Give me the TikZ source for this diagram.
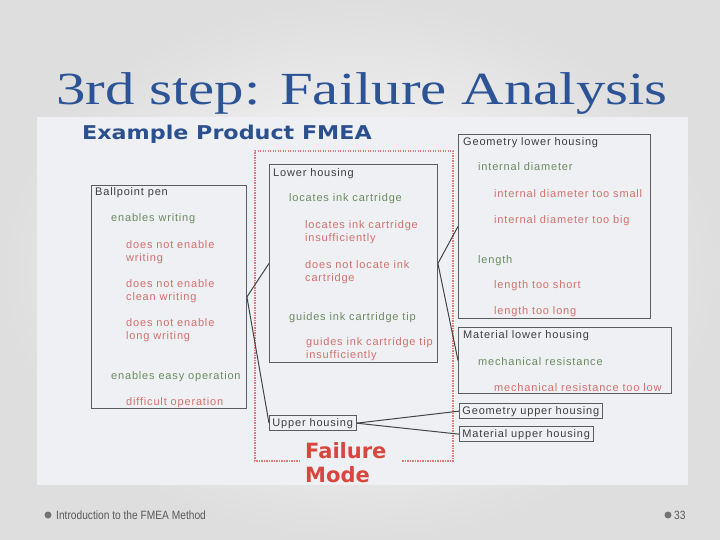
\documentclass[tikz,border=0pt]{standalone}
\usepackage{fontspec}
\usepackage{graphicx}
\setmainfont{Liberation Sans}
\newfontfamily\titlefont{Liberation Serif}
\newfontfamily\headfont{DejaVu Sans}
\newfontfamily\boxfont[LetterSpace=7.5]{Liberation Sans}
\definecolor{titleblue}{HTML}{2B5395}
\definecolor{headblue}{HTML}{2C4F8E}
\definecolor{modered}{HTML}{D9463D}
\definecolor{fngreen}{HTML}{6B8A5F}
\definecolor{fmtext}{HTML}{D4706C}
\definecolor{darktext}{HTML}{3E3E3E}
\definecolor{boxline}{HTML}{5C5C5C}
\definecolor{panel}{HTML}{EEF0F4}
\definecolor{dotred}{HTML}{E27B76}
\tikzset{
  elem/.style={anchor=base west, inner sep=0, font=\boxfont\fontsize{11}{13}\selectfont, text=darktext},
  func/.style={elem, text=fngreen},
  fail/.style={elem, text=fmtext, align=left},
  frame/.style={draw=boxline, line width=0.9pt, anchor=north west, inner sep=0},
  tag/.style={elem, draw=boxline, line width=0.9pt, inner xsep=3pt, inner ysep=2.5pt},
  link/.style={draw=boxline!75!black, line width=1pt}
}

\begin{document}
\begin{tikzpicture}[x=1pt, y=-1pt]
  \useasboundingbox (0,0) rectangle (720,540);
  \shade[inner color=white, outer color=black!13] (0,0) rectangle (720,540);
  \fill[panel] (37,117) rectangle (688,485);
  \node[anchor=base west, inner sep=0, text=titleblue, font=\titlefont\fontsize{46}{46}\selectfont] (title) at (56,105) {\scalebox{1.28}[1]{3rd step: Failure Analysis}};
  \node[anchor=base west, inner sep=0, text=headblue, font=\headfont\bfseries\fontsize{19}{19}\selectfont] (head) at (82,140) {\scalebox{1.17}[1]{Example Product FMEA}};
  \draw[dotred, line width=1.4pt, dash pattern=on 1.2pt off 1.3pt] (300,461) -- (255,461) -- (255,151) -- (453,151) -- (453,461) -- (402,461);
  \node[anchor=base west, inner sep=0, text=modered, align=left, font=\headfont\bfseries\fontsize{21}{24}\selectfont] (fmode) at (305,482) {Failure\\Mode};
  \node[frame, minimum width=155pt, minimum height=223pt] (pen) at (91,185) {};
  \node[elem] (penT) at (95,196) {Ballpoint pen};
  \node[func] (f1) at (111,222) {enables writing};
  \node[fail] (e1) at (126,261) {does not enable\\writing};
  \node[fail] (e2) at (126,300) {does not enable\\clean writing};
  \node[fail] (e3) at (126,339) {does not enable\\long writing};
  \node[func] (f2) at (111,379) {enables easy operation};
  \node[fail] (e4) at (126,405) {difficult operation};
  \node[frame, minimum width=168pt, minimum height=198pt] (lower) at (269,164) {};
  \node[elem] (lowerT) at (273,177) {Lower housing};
  \node[func] (f3) at (289,202) {locates ink cartridge};
  \node[fail] (e5) at (305,241) {locates ink cartridge\\insufficiently};
  \node[fail] (e6) at (305,281) {does not locate ink\\cartridge};
  \node[func] (f4) at (289,320) {guides ink cartridge tip};
  \node[fail] (e7) at (306,358) {guides ink cartridge tip\\insufficiently};
  \node[tag] (upper) at (269,426) {Upper housing};
  \node[frame, minimum width=192pt, minimum height=184pt] (geolow) at (458,134) {};
  \node[elem] (geolowT) at (463,146) {Geometry lower housing};
  \node[func] (f5) at (478,171) {internal diameter};
  \node[fail] (e8) at (494,197) {internal diameter too small};
  \node[fail] (e9) at (494,223) {internal diameter too big};
  \node[func] (f6) at (478,263) {length};
  \node[fail] (e10) at (494,288) {length too short};
  \node[fail] (e11) at (494,314) {length too long};
  \node[frame, minimum width=213pt, minimum height=66pt] (matlow) at (458,327) {};
  \node[elem] (matlowT) at (463,338) {Material lower housing};
  \node[func] (f7) at (478,365) {mechanical resistance};
  \node[fail] (e12) at (494,391) {mechanical resistance too low};
  \node[tag] (geoup) at (459,414) {Geometry upper housing};
  \node[tag] (matup) at (459,437) {Material upper housing};
  \draw[link] (pen.east) -- (lower.west);
  \draw[link] (pen.east) -- (upper.west);
  \draw[link] (lower.east) -- (geolow.west);
  \draw[link] (lower.east) -- (matlow.west);
  \draw[link] (upper.east) -- (geoup.west);
  \draw[link] (upper.east) -- (matup.west);
  \fill[black!55] (48,515) circle (3.5pt);
  \node[anchor=west, inner sep=0, text=black!65, font=\fontsize{12}{12}\selectfont] (foot) at (56,515) {\scalebox{0.85}[1]{Introduction to the FMEA Method}};
  \fill[black!55] (668,515) circle (3.5pt);
  \node[anchor=west, inner sep=0, text=black!65, font=\fontsize{12}{12}\selectfont] (page) at (674,515) {\scalebox{0.85}[1]{33}};
\end{tikzpicture}
\end{document}
